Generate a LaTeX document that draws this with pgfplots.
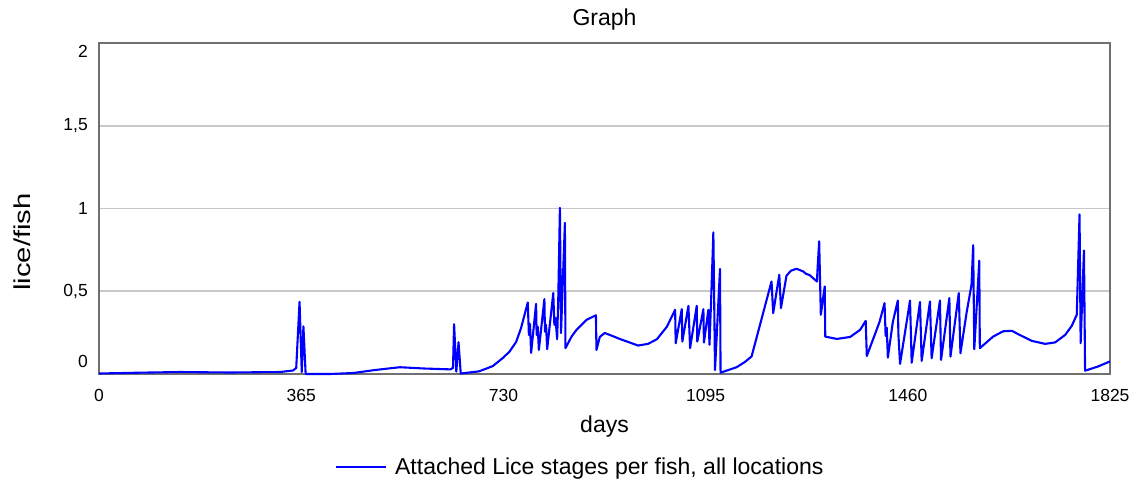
\documentclass[border=0pt]{standalone}
\usepackage{pgfplots}
\pgfplotsset{compat=1.18}
\usepackage{fontspec}
\setmainfont{Liberation Sans}
\usetikzlibrary{calc}
\definecolor{axgray}{RGB}{112,112,112}
\definecolor{gridgray}{RGB}{200,200,200}
\definecolor{lineblue}{RGB}{0,0,255}
\begin{document}
\begin{tikzpicture}
\begin{axis}[
  name=ax,
  scale only axis,
  width=1011pt, height=331pt,
  xmin=0, xmax=1825, ymin=0, ymax=2,
  axis line style={draw=axgray, line width=1.6pt},
  major tick length=0pt,
  xtick={0,365,730,1095,1460,1825},
  ytick={0.5,1,1.5},
  yticklabels={{0,5},{1},{1,5}},
  extra y ticks={0.073,1.952},
  extra y tick labels={0,2},
  extra y tick style={grid=none},
  ymajorgrids,
  grid style={draw=gridgray, line width=1.6pt},
  /pgf/number format/assume math mode=true,
  /pgf/number format/set thousands separator={},
  tick label style={font=\fontsize{17.5}{20}\selectfont, text=black},
  xticklabel style={anchor=center, yshift=-21pt},
  yticklabel style={anchor=east, inner sep=0pt, xshift=-11pt},
  title={Graph},
  title style={at={(axis description cs:0.5,1)}, anchor=center, yshift=17pt, font=\fontsize{23}{26}\selectfont},
  xlabel={days},
  xlabel style={at={(axis description cs:0.5,0)}, anchor=center, yshift=-53pt, font=\fontsize{23}{26}\selectfont},
  ylabel={\scalebox{1.27}[1]{lice/fish}},
  ylabel style={at={(axis description cs:-0.0762,0.399)}, anchor=center, font=\fontsize{23}{26}\selectfont},
  legend style={at={(axis description cs:0.476,0)}, anchor=center, yshift=-93pt, draw=none, fill=none, font=\fontsize{23}{26}\selectfont, inner sep=0pt, /tikz/every odd column/.append style={column sep=6pt}},
  legend cell align=left,
  legend image code/.code={\draw[#1] (0pt,0pt) -- (50pt,0pt);},
  clip=false,
]
\addplot[color=lineblue, line width=2.1pt, line join=round] table {
x y
0 0.003
74 0.008
146 0.012
236 0.009
327 0.012
350 0.021
356 0.036
362 0.436
366 0.012
369 0.288
373 0.0
417 0.0
459 0.006
498 0.024
543 0.041
588 0.033
634 0.028
639 0.036
641 0.301
645 0.014
649 0.192
653 0.003
686 0.016
711 0.048
729 0.097
741 0.135
753 0.194
762 0.279
774 0.432
776 0.236
778 0.303
780 0.127
789 0.424
790 0.236
792 0.285
794 0.145
804 0.453
805 0.256
807 0.297
809 0.150
820 0.489
822 0.297
824 0.339
827 0.210
829 0.448
832 1.004
834 0.247
841 0.913
842 0.156
853 0.226
862 0.267
880 0.327
897 0.355
898 0.145
904 0.224
913 0.248
940 0.212
973 0.172
991 0.182
1007 0.210
1025 0.285
1040 0.388
1041 0.186
1052 0.392
1053 0.196
1064 0.412
1067 0.156
1079 0.412
1080 0.196
1091 0.392
1092 0.190
1100 0.388
1102 0.176
1105 0.448
1109 0.856
1112 0.024
1121 0.635
1122 0.008
1151 0.041
1166 0.073
1178 0.106
1214 0.559
1217 0.368
1228 0.600
1231 0.398
1241 0.594
1249 0.624
1259 0.636
1271 0.620
1276 0.606
1283 0.597
1296 0.559
1297 0.630
1300 0.802
1303 0.358
1310 0.529
1311 0.226
1332 0.212
1356 0.224
1374 0.267
1384 0.321
1386 0.109
1398 0.216
1409 0.315
1418 0.428
1420 0.230
1422 0.279
1424 0.099
1433 0.315
1442 0.444
1443 0.242
1446 0.061
1464 0.444
1467 0.068
1482 0.435
1485 0.079
1500 0.438
1503 0.095
1518 0.444
1520 0.085
1535 0.459
1537 0.105
1552 0.489
1555 0.125
1566 0.368
1575 0.539
1578 0.778
1580 0.150
1589 0.685
1590 0.156
1614 0.226
1632 0.258
1648 0.261
1662 0.236
1684 0.200
1708 0.182
1726 0.191
1744 0.236
1756 0.291
1765 0.358
1770 0.964
1772 0.186
1778 0.747
1780 0.020
1803 0.045
1825 0.076
};
\addlegendentry{Attached Lice stages per fish, all locations}
\coordinate (bl) at (rel axis cs:0,0);
\coordinate (tr) at (rel axis cs:1,1);
\end{axis}
\pgfresetboundingbox
\path ($(bl)+(-99pt,-108pt)$) rectangle ($(tr)+(24pt,43pt)$);
\end{tikzpicture}
\end{document}
